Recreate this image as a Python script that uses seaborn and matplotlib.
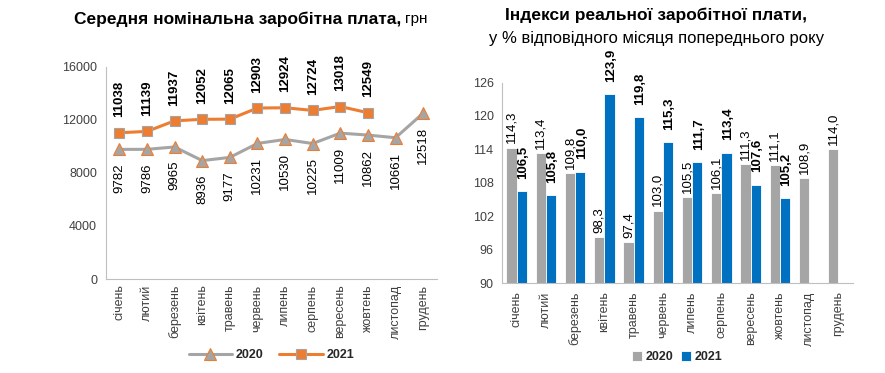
import pandas as pd
import matplotlib.pyplot as plt
import seaborn as sns

months = ['січень', 'лютий', 'березень', 'квітень', 'травень', 'червень',
          'липень', 'серпень', 'вересень', 'жовтень', 'листопад', 'грудень']

# nominal wage, UAH
wage_2020 = [9782, 9786, 9965, 8936, 9177, 10231, 10530, 10225, 11009, 10862, 10661, 12518]
wage_2021 = [11038, 11139, 11937, 12052, 12065, 12903, 12924, 12724, 13018, 12549]

# real wage index, % of same month last year
idx_2020 = [114.3, 113.4, 109.8, 98.3, 97.4, 103.0, 105.5, 106.1, 111.3, 111.1, 108.9, 114.0]
idx_2021 = [106.5, 105.8, 110.0, 123.9, 119.8, 115.3, 111.7, 113.4, 107.6, 105.2]

GRAY = '#A5A5A5'
ORANGE = '#ED7D31'
BLUE = '#0070C0'
TXT = '#404040'

sns.set_style('white')
plt.rcParams['font.family'] = ['Liberation Sans', 'DejaVu Sans']

fig = plt.figure(figsize=(8.85, 3.73), dpi=100)

# ---- left: nominal wage lines
ax1 = fig.add_axes([105.5 / 885, 94 / 373, 331.5 / 885, 212 / 373])
w20 = pd.DataFrame({'month': months, 'value': wage_2020})
w21 = pd.DataFrame({'month': months[:len(wage_2021)], 'value': wage_2021})

sns.lineplot(data=w20, x='month', y='value', ax=ax1, sort=False, color=GRAY, lw=2.2,
             marker='^', markersize=8, markerfacecolor=GRAY, markeredgecolor=ORANGE,
             markeredgewidth=0.8, label='2020')
sns.lineplot(data=w21, x='month', y='value', ax=ax1, sort=False, color=ORANGE, lw=2.2,
             marker='s', markersize=7, markerfacecolor=ORANGE, markeredgecolor=GRAY,
             markeredgewidth=0.8, label='2021')

for i, v in enumerate(wage_2020):
    ax1.annotate(str(v), (i, v), xytext=(0, -10), textcoords='offset points',
                 rotation=90, ha='center', va='top', fontsize=9.5, color='black')
for i, v in enumerate(wage_2021):
    ax1.annotate(str(v), (i, v), xytext=(0, 11), textcoords='offset points',
                 rotation=90, ha='center', va='bottom', fontsize=9.5,
                 fontweight='bold', color='black')

ax1.set_xlim(-0.5, 11.5)
ax1.set_ylim(0, 16000)
ax1.set_yticks([0, 4000, 8000, 12000, 16000])
ax1.set_xlabel('')
ax1.set_ylabel('')
ax1.tick_params(axis='x', rotation=90, labelsize=9, colors=TXT, length=0, pad=4)
ax1.tick_params(axis='y', labelsize=9, colors=TXT, length=0, pad=6)
for s in ['top', 'right']:
    ax1.spines[s].set_visible(False)
for s in ['left', 'bottom']:
    ax1.spines[s].set_color('#BFBFBF')
ax1.legend(loc='center', bbox_to_anchor=(0.5, -0.36), ncol=2, frameon=False,
           prop={'weight': 'bold', 'size': 9}, handlelength=3.5,
           columnspacing=1.2, handletextpad=0.3)

fig.text(401 / 885, 1 - 19 / 373, 'Середня номінальна заробітна плата,', ha='right',
         va='center', fontsize=12.5, fontweight='bold', color='black')
fig.text(405 / 885, 1 - 19 / 373, 'грн', ha='left', va='center', fontsize=11,
         color='black')

# ---- right: real wage index bars
ax2 = fig.add_axes([502 / 885, 90 / 373, 351 / 885, 200.5 / 373])
idx = pd.DataFrame({
    'month': months * 2,
    'year': ['2020'] * 12 + ['2021'] * 12,
    'value': idx_2020 + idx_2021 + [float('nan')] * (12 - len(idx_2021)),
})
sns.barplot(data=idx, x='month', y='value', hue='year', ax=ax2,
            palette={'2020': GRAY, '2021': BLUE}, width=0.7, gap=0,
            edgecolor='white', linewidth=0.6, saturation=1)

for i, v in enumerate(idx_2020):
    ax2.annotate(f'{v:.1f}'.replace('.', ','), (i - 0.175, v), xytext=(0, 3),
                 textcoords='offset points', rotation=90, ha='center', va='bottom',
                 fontsize=9.5, color='black', annotation_clip=False)
for i, v in enumerate(idx_2021):
    ax2.annotate(f'{v:.1f}'.replace('.', ','), (i + 0.175, v), xytext=(1, 9),
                 textcoords='offset points', rotation=90, ha='center', va='bottom',
                 fontsize=9.5, fontweight='bold', color='black', annotation_clip=False)

ax2.set_xlim(-0.5, 11.5)
ax2.set_ylim(90, 126)
ax2.set_yticks([90, 96, 102, 108, 114, 120, 126])
ax2.set_xlabel('')
ax2.set_ylabel('')
ax2.tick_params(axis='x', rotation=90, labelsize=9, colors=TXT, length=0, pad=6)
ax2.tick_params(axis='y', labelsize=9, colors=TXT, length=0, pad=6)
for s in ['top', 'right']:
    ax2.spines[s].set_visible(False)
for s in ['left', 'bottom']:
    ax2.spines[s].set_color('#BFBFBF')
ax2.legend(loc='center', bbox_to_anchor=(0.5, -0.37), ncol=2, frameon=False,
           prop={'weight': 'bold', 'size': 9}, handlelength=0.8, handleheight=0.8,
           columnspacing=0.6, handletextpad=0.3)

fig.text(656 / 885, 1 - 15 / 373, 'Індекси реальної заробітної плати,', ha='center',
         va='center', fontsize=12.5, fontweight='bold', color='black')
fig.text(657 / 885, 1 - 38 / 373, 'у % відповідного місяця попереднього року',
         ha='center', va='center', fontsize=12, color='black')

fig.savefig('out.png', dpi=100)
